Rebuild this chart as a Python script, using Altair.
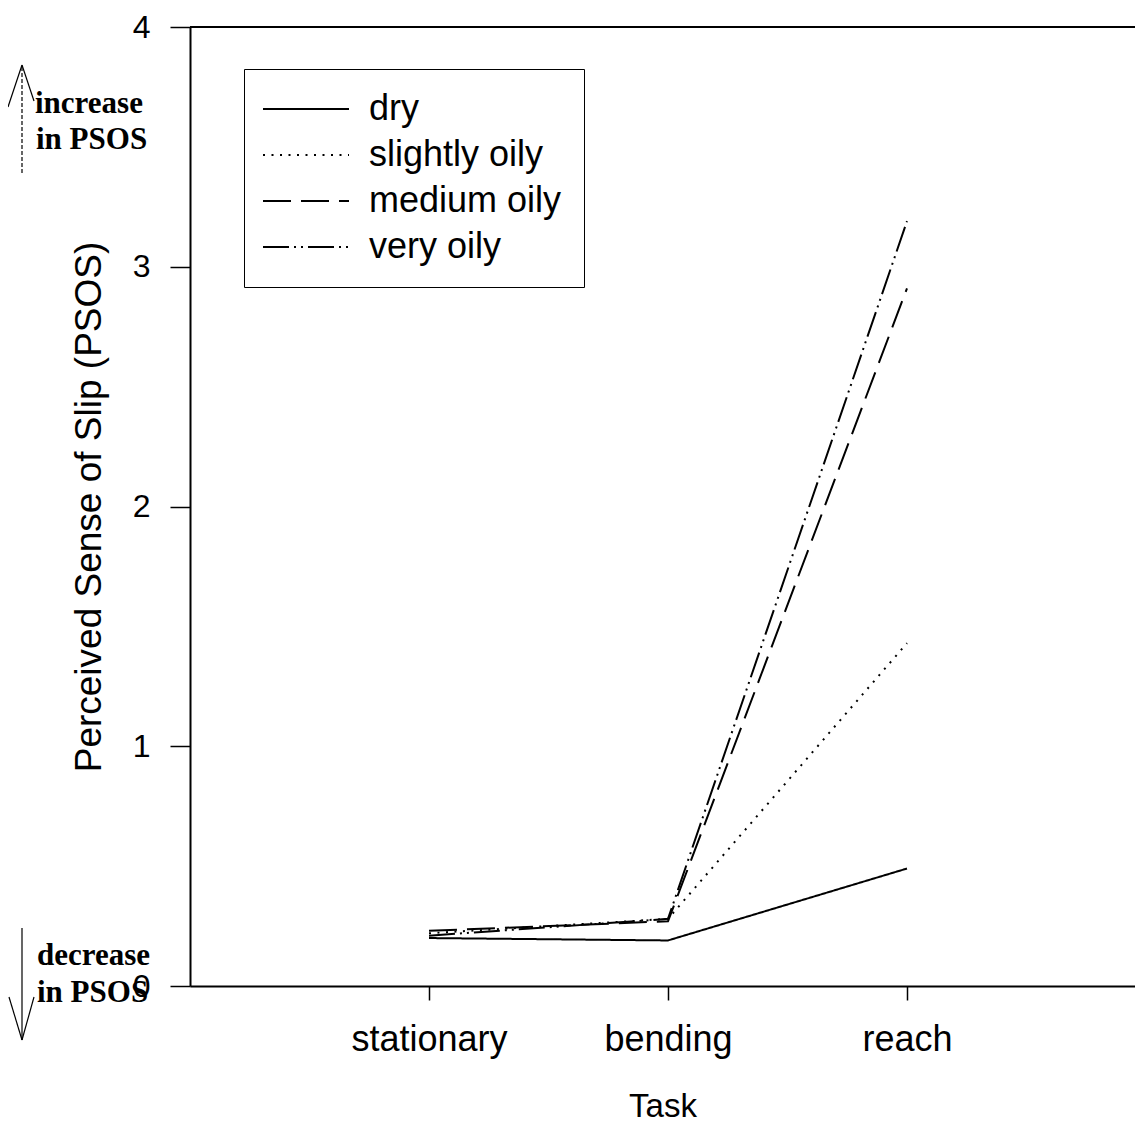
import json
import altair as alt
import pandas as pd

# ---- data ----
tasks = ["stationary", "bending", "reach"]
conditions = ["dry", "slightly oily", "medium oily", "very oily"]
dry = [0.20, 0.19, 0.49]
slightly_oily = [0.22, 0.28, 1.43]
medium_oily = [0.23, 0.27, 2.91]
very_oily = [0.21, 0.28, 3.19]
y_ticks = [0, 1, 2, 3, 4]

series = {
    "dry": dry,
    "slightly oily": slightly_oily,
    "medium oily": medium_oily,
    "very oily": very_oily,
}
rows = []
for cond in conditions:
    for i, t in enumerate(tasks):
        rows.append({"task_idx": i + 1, "task": t, "condition": cond, "psos": series[cond][i]})
df = pd.DataFrame(rows)

W, H = 945, 959
FONT = "Liberation Sans"
SERIF = "Liberation Serif"

dashes = [[1, 0], [2, 6.5], [28, 10], [26, 5, 2, 5, 2, 5]]

label_expr = f"{json.dumps(tasks)}[datum.value - 1]"

x_enc = alt.X(
    "task_idx:Q",
    scale=alt.Scale(domain=[0, W / 239.0], nice=False, zero=False),
    axis=alt.Axis(
        values=[1, 2, 3],
        labelExpr=label_expr,
        title="Task",
        tickSize=14,
        tickWidth=1.5,
        domainWidth=2,
        labelFontSize=36,
        labelPadding=22,
        titleFontSize=33,
        titleFontWeight="normal",
        titlePadding=33,
        labelFont=FONT,
        titleFont=FONT,
        grid=False,
    ),
)
y_enc = alt.Y(
    "psos:Q",
    scale=alt.Scale(domain=[0, 4], nice=False),
    axis=alt.Axis(
        values=y_ticks,
        format="d",
        title="Perceived Sense of Slip (PSOS)",
        tickSize=20,
        tickWidth=1.5,
        domainWidth=2,
        labelFontSize=32,
        labelPadding=20,
        titleFontSize=37,
        titleFontWeight="normal",
        titlePadding=24,
        labelFont=FONT,
        titleFont=FONT,
        grid=False,
    ),
)

lines = alt.Chart(df).mark_line(color="black", strokeWidth=2).encode(
    x=x_enc,
    y=y_enc,
    strokeDash=alt.StrokeDash(
        "condition:N",
        scale=alt.Scale(domain=conditions, range=dashes),
        sort=conditions,
        legend=alt.Legend(
            title=None,
            orient="none",
            legendX=54,
            legendY=42,
            strokeColor="black",
            padding=22,
            symbolType="M-2.1,0H6.5",
            symbolSize=400,
            symbolStrokeWidth=2,
            symbolStrokeColor="black",
            labelFontSize=36,
            labelFont=FONT,
            labelOffset=67,
            rowPadding=10,
            labelLimit=400,
        ),
    ),
    detail="condition:N",
)

top_df = pd.DataFrame({"y": [y_ticks[-1]]})
top_rule = alt.Chart(top_df).mark_rule(color="black", strokeWidth=2).encode(
    y=alt.Y("y:Q"),
    x=alt.value(0),
    x2=alt.value(W),
)

def txt(s, x, y):
    return alt.Chart(pd.DataFrame({"t": [s]})).mark_text(
        font=SERIF, fontWeight="bold", fontSize=31, align="left", baseline="middle", color="black"
    ).encode(text="t:N", x=alt.value(x), y=alt.value(y))

def seg(x1, y1, x2, y2, dash=None):
    kw = dict(color="black", strokeWidth=1.2)
    if dash:
        kw["strokeDash"] = dash
    return alt.Chart(pd.DataFrame({"a": [0]})).mark_rule(**kw).encode(
        x=alt.value(x1), y=alt.value(y1), x2=alt.value(x2), y2=alt.value(y2)
    )

annots = [
    txt("increase", -155, 77),
    txt("in PSOS", -154, 113),
    txt("decrease", -153, 929),
    txt("in PSOS", -153, 966),
    seg(-168, 146, -168, 38, [4, 2]),
    seg(-168, 38, -182, 80),
    seg(-168, 38, -156, 74),
    seg(-168, 901, -168, 1013),
    seg(-168, 1013, -181, 970),
    seg(-168, 1013, -156, 970),
]

chart = alt.layer(lines, top_rule, *annots).properties(
    width=W,
    height=H,
    autosize=alt.AutoSizeParams(type="none"),
    padding={"left": 182, "top": 19, "right": 0, "bottom": 139},
).configure_view(stroke=None).configure_axis(
    domainColor="black", tickColor="black", labelColor="black", titleColor="black"
).configure_legend(labelColor="black")

chart.save("out.html", embed_options={"renderer": "svg", "actions": False})
